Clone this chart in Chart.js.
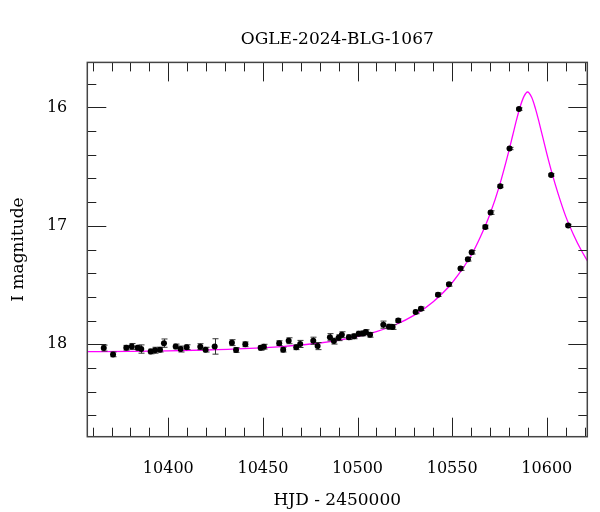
<!DOCTYPE html>
<html>
<head>
<meta charset="utf-8">
<script src="https://cdn.jsdelivr.net/npm/chart.js@4/dist/chart.umd.min.js"></script>
<style>
  html, body { margin: 0; padding: 0; background: #fff; }
  canvas { display: block; }
</style>
</head>
<body>
<canvas id="lc" width="600" height="512"></canvas>
<script>
// OGLE photometry (HJD - 2450000, I mag, error)
const obsT = [
  10365.9, 10370.8, 10377.8, 10380.7, 10383.8, 10385.7, 10390.7, 10393.0, 10395.6, 10397.7,
  10403.9, 10406.5, 10409.7, 10416.9, 10419.7, 10424.5, 10433.6, 10435.8, 10440.7, 10448.8,
  10450.5, 10458.6, 10460.7, 10463.6, 10467.6, 10469.7, 10476.6, 10478.9, 10485.4, 10487.5,
  10490.0, 10491.7, 10495.4, 10498.2, 10500.6, 10503.0, 10504.4, 10506.6, 10513.6, 10516.6,
  10518.5, 10521.5, 10530.7, 10533.5, 10542.5, 10548.3, 10554.4, 10558.3, 10560.3, 10567.5,
  10570.3, 10575.4, 10580.3, 10585.3, 10602.3, 10611.3
];
const obsMag = [
  18.032, 18.085, 18.029, 18.018, 18.029, 18.040, 18.060, 18.050, 18.045, 17.990,
  18.018, 18.040, 18.024, 18.020, 18.045, 18.018, 17.986, 18.048, 18.000, 18.030,
  18.020, 17.990, 18.045, 17.970, 18.025, 17.997, 17.970, 18.015, 17.940, 17.973,
  17.944, 17.919, 17.940, 17.933, 17.910, 17.908, 17.897, 17.920, 17.834, 17.851,
  17.854, 17.800, 17.727, 17.700, 17.581, 17.494, 17.361, 17.282, 17.223, 17.009,
  16.888, 16.665, 16.347, 16.014, 16.570, 16.997
];
const obsErr = [
  0.025, 0.020, 0.020, 0.025, 0.020, 0.035, 0.020, 0.025, 0.020, 0.035,
  0.020, 0.025, 0.020, 0.025, 0.020, 0.065, 0.025, 0.020, 0.020, 0.020,
  0.020, 0.020, 0.020, 0.025, 0.020, 0.030, 0.030, 0.030, 0.030, 0.025,
  0.025, 0.025, 0.020, 0.020, 0.020, 0.020, 0.020, 0.020, 0.030, 0.020,
  0.020, 0.015, 0.015, 0.015, 0.015, 0.015, 0.015, 0.015, 0.015, 0.015,
  0.015, 0.012, 0.010, 0.010, 0.010, 0.010
];

// model curve
const modelT = [
  10357, 10380, 10400, 10420, 10440, 10460, 10480, 10500, 10510, 10520,
  10530, 10540, 10550, 10560, 10565, 10570, 10575, 10580, 10582, 10584,
  10586, 10588, 10589.8, 10592, 10594, 10596, 10598, 10600, 10603, 10606,
  10610, 10614, 10618, 10622
];
const modelMag = [
  18.062, 18.059, 18.055, 18.048, 18.037, 18.019, 17.989, 17.935, 17.892, 17.835,
  17.754, 17.640, 17.480, 17.250, 17.090, 16.900, 16.660, 16.365, 16.235, 16.105,
  15.990, 15.905, 15.870, 15.915, 16.010, 16.130, 16.260, 16.390, 16.570, 16.730,
  16.920, 17.070, 17.200, 17.310
];

const xMin = 10357.2, xMax = 10621.4;
const yMin = 15.62, yMax = 18.78;
const xMajor = [10400, 10450, 10500, 10550, 10600];
const xMinor = [];
for (let v = 10360; v <= 10620; v += 10) xMinor.push(v);
const yMajor = [16, 17, 18];
const yMinor = [15.8, 16.2, 16.4, 16.6, 16.8, 17.2, 17.4, 17.6, 17.8, 18.2, 18.4, 18.6];

Chart.defaults.font.family = "'DejaVu Serif', serif";
Chart.defaults.color = "#000";

const errorBars = {
  id: "errorBars",
  beforeDatasetDraw(chart, args) {
    if (args.index !== 1) return;
    const { ctx, chartArea: a, scales: { x, y } } = chart;
    ctx.save();
    ctx.beginPath();
    ctx.rect(a.left, a.top, a.width, a.height);
    ctx.clip();
    ctx.strokeStyle = "#333";
    ctx.lineWidth = 1;
    obsT.forEach((t, i) => {
      const px = Math.round(x.getPixelForValue(t)) + 0.5;
      const y1 = y.getPixelForValue(obsMag[i] - obsErr[i]);
      const y2 = y.getPixelForValue(obsMag[i] + obsErr[i]);
      ctx.beginPath();
      ctx.moveTo(px, y1); ctx.lineTo(px, y2);
      ctx.moveTo(px - 3, y1); ctx.lineTo(px + 3, y1);
      ctx.moveTo(px - 3, y2); ctx.lineTo(px + 3, y2);
      ctx.stroke();
    });
    ctx.restore();
  }
};

const frame = {
  id: "frame",
  afterDraw(chart) {
    const { ctx, chartArea: a, scales: { x, y } } = chart;
    const seg = (x1, y1, x2, y2) => { ctx.moveTo(x1, y1); ctx.lineTo(x2, y2); };
    ctx.save();
    ctx.strokeStyle = "#222";
    ctx.lineWidth = 1;
    ctx.beginPath();
    xMinor.forEach(v => {
      const len = xMajor.includes(v) ? 19 : 9;
      const px = Math.round(x.getPixelForValue(v)) + 0.5;
      seg(px, a.bottom, px, a.bottom - len);
      seg(px, a.top, px, a.top + len);
    });
    yMajor.concat(yMinor).forEach(v => {
      const len = yMajor.includes(v) ? 19 : 9;
      const py = Math.round(y.getPixelForValue(v)) + 0.5;
      seg(a.left, py, a.left + len, py);
      seg(a.right, py, a.right - len, py);
    });
    ctx.stroke();
    ctx.strokeStyle = "#444";
    ctx.lineWidth = 1.5;
    ctx.strokeRect(a.left, a.top, a.width, a.height);
    ctx.restore();
  }
};

new Chart(document.getElementById("lc"), {
  type: "scatter",
  data: {
    datasets: [
      {
        label: "model",
        data: modelT.map((t, i) => ({ x: t, y: modelMag[i] })),
        showLine: true,
        borderColor: "#ff00ff",
        borderWidth: 1.3,
        pointRadius: 0,
        cubicInterpolationMode: "monotone",
        order: 2
      },
      {
        label: "OGLE",
        data: obsT.map((t, i) => ({ x: t, y: obsMag[i] })),
        backgroundColor: "#000",
        borderColor: "#000",
        pointRadius: 3,
        pointBorderWidth: 0,
        order: 1
      }
    ]
  },
  options: {
    responsive: false,
    animation: false,
    devicePixelRatio: 1,
    layout: { padding: { left: 0, right: 12.7, top: 0, bottom: 0 } },
    plugins: {
      legend: { display: false },
      tooltip: { enabled: false },
      title: {
        display: true,
        text: "OGLE-2024-BLG-1067",
        fullSize: false,
        color: "#000",
        font: { size: 17, weight: "normal" },
        padding: { top: 29, bottom: 13 }
      }
    },
    scales: {
      x: {
        type: "linear",
        min: xMin,
        max: xMax,
        grid: { display: false, drawTicks: false },
        border: { display: false },
        afterBuildTicks: s => { s.ticks = xMajor.map(v => ({ value: v })); },
        afterFit: s => { s.height = 75.3; },
        ticks: { font: { size: 16 }, padding: 23, maxRotation: 0, callback: v => String(v) },
        title: { display: true, text: "HJD - 2450000", font: { size: 17 }, padding: { top: 0, bottom: 1 } }
      },
      y: {
        reverse: true,
        min: yMin,
        max: yMax,
        grid: { display: false, drawTicks: false },
        border: { display: false },
        afterBuildTicks: s => { s.ticks = yMajor.map(v => ({ value: v })); },
        afterFit: s => { s.width = 87.3; },
        ticks: { font: { size: 16 }, padding: 20, callback: v => String(v) },
        title: { display: true, text: "I magnitude", font: { size: 17 }, padding: { top: 8, bottom: 0 } }
      }
    }
  },
  plugins: [errorBars, frame]
});
</script>
</body>
</html>
